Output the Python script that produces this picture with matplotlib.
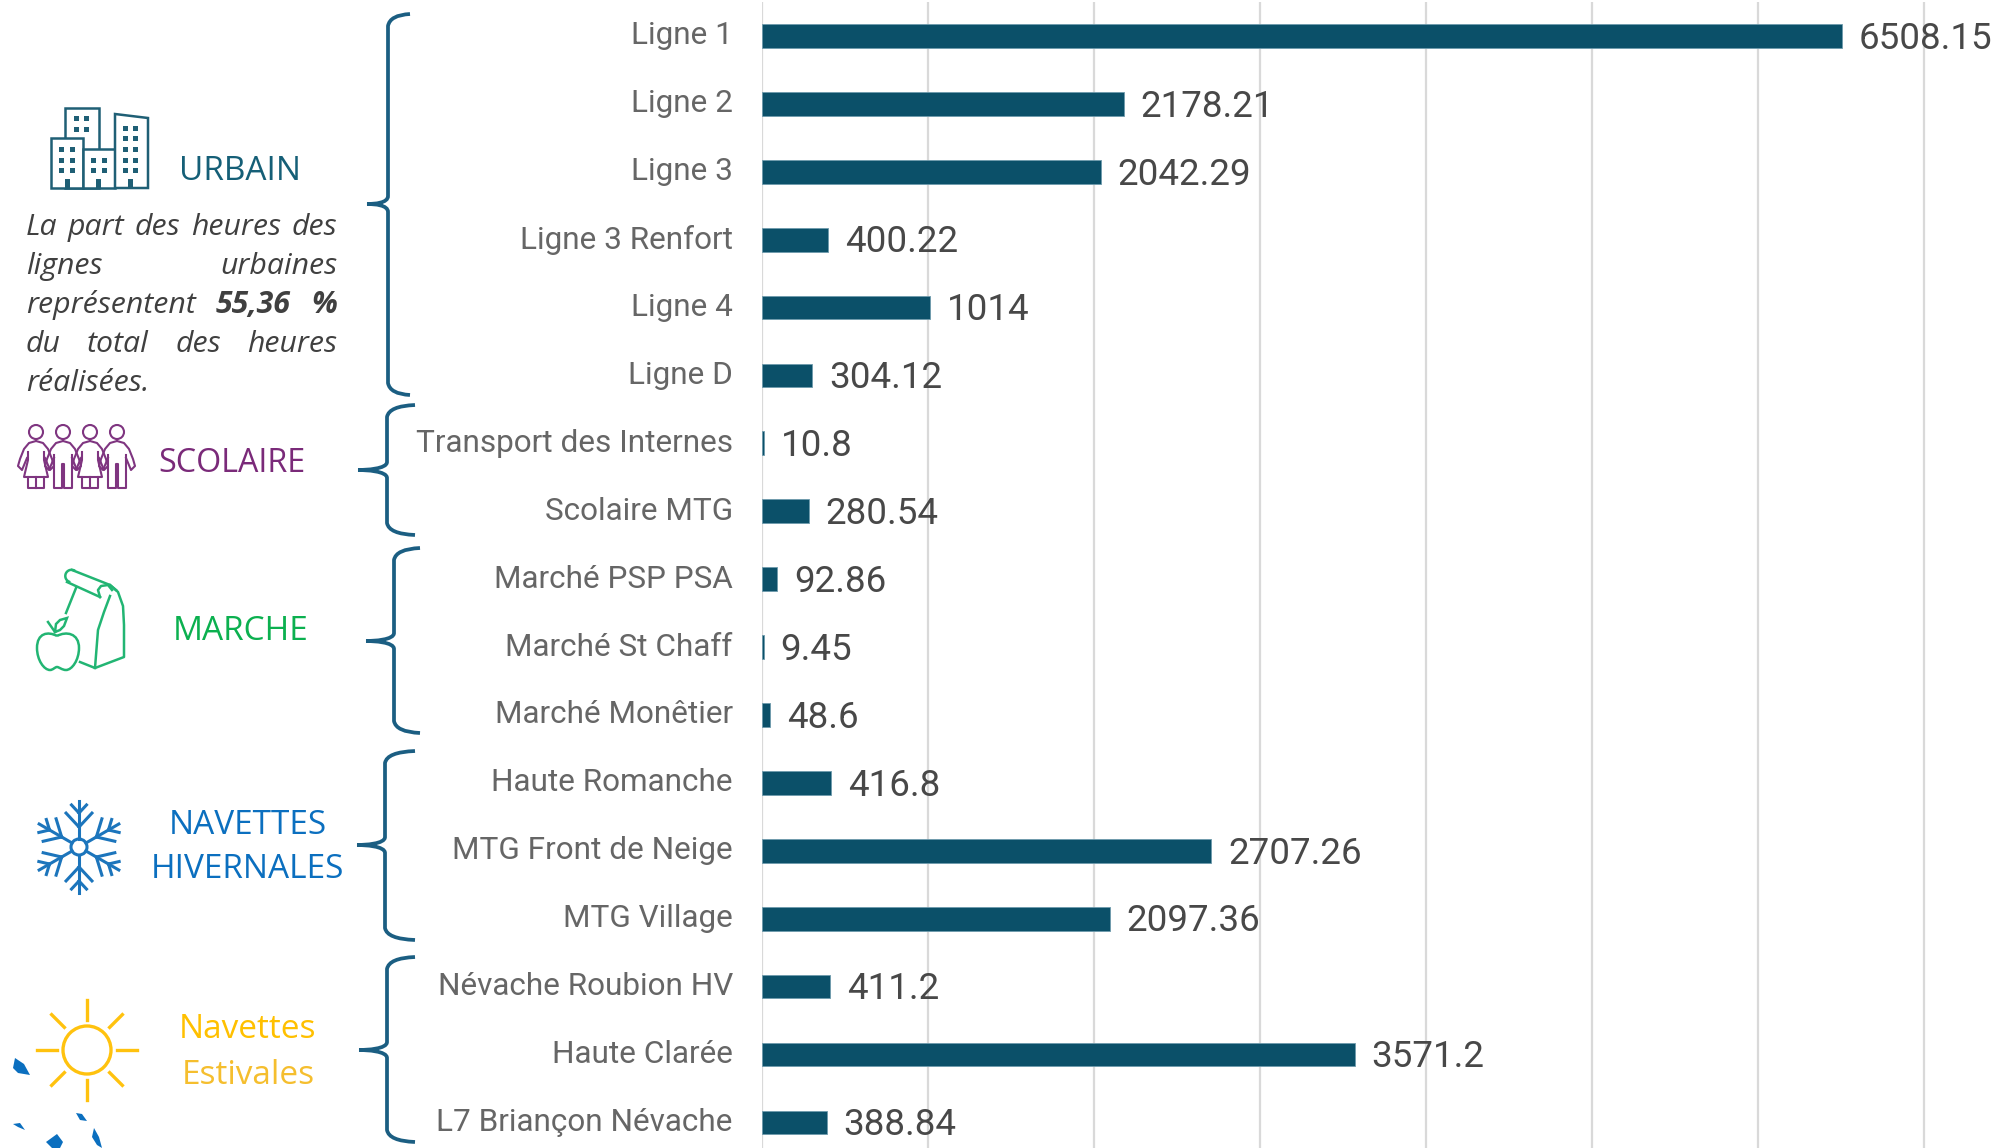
import matplotlib
matplotlib.use('Agg')
import matplotlib.pyplot as plt
from matplotlib.path import Path
from matplotlib.patches import PathPatch, Circle, Rectangle, Polygon
import numpy as np

categories = ['Ligne 1', 'Ligne 2', 'Ligne 3', 'Ligne 3 Renfort', 'Ligne 4', 'Ligne D',
              'Transport des Internes', 'Scolaire MTG',
              'Marché PSP PSA', 'Marché St Chaff', 'Marché Monêtier',
              'Haute Romanche', 'MTG Front de Neige', 'MTG Village',
              'Névache Roubion HV', 'Haute Clarée', 'L7 Briançon Névache']
heures = [6508.15, 2178.21, 2042.29, 400.22, 1014, 304.12,
          10.8, 280.54,
          92.86, 9.45, 48.6,
          416.8, 2707.26, 2097.36,
          411.2, 3571.2, 388.84]
grid_ticks = [0, 1000, 2000, 3000, 4000, 5000, 6000, 7000]

W, H = 2011, 1148
fig = plt.figure(figsize=(W / 100, H / 100), dpi=100)

# chart axes : 166 px for 1000 h, rows every 67.9 px
ax = fig.add_axes([762 / W, 0, (W - 762) / W, (H - 2) / H])
ax.barh(range(len(heures)), heures, height=0.35, color='#0B5069', edgecolor='#6E9BAD', linewidth=0.6, zorder=3)
ax.set_xlim(0, (W - 762) / 0.166)
ax.set_ylim((H - 36) / 67.9, -0.5)
ax.set_xticks(grid_ticks)
ax.set_yticks(range(len(categories)))
ax.set_yticklabels(categories, family='Roboto', fontsize=22.7, color='#666666', va='center')
ax.tick_params(axis='y', length=0, pad=21)
ax.tick_params(axis='x', length=0, labelbottom=False)
ax.grid(axis='x', color='#D9D9D9', linewidth=1.6, zorder=0)
for s in ax.spines.values():
    s.set_visible(False)
for i, v in enumerate(heures):
    ax.annotate(f'{v:g}', (v, i), xytext=(12, -2), textcoords='offset points', va='center', ha='left',
                family='Roboto', fontsize=26.5, color='#484848')

# overlay in pixels for the icons and braces
ov = fig.add_axes([0, 0, 1, 1], zorder=5)
ov.set_xlim(0, W)
ov.set_ylim(H, 0)
ov.axis('off')
ov.patch.set_alpha(0)


def brace(x_spine, x_tip, x_end, y_top, y_mid, y_bot):
    r = 12
    verts = [(x_end, y_top), (x_spine + 2, y_top + 1), (x_spine, y_top + r),
             (x_spine, y_mid - 8),
             (x_spine, y_mid - 1), (x_tip + 8, y_mid), (x_tip, y_mid),
             (x_tip + 8, y_mid), (x_spine, y_mid + 1), (x_spine, y_mid + 8),
             (x_spine, y_bot - r),
             (x_spine + 2, y_bot - 1), (x_end, y_bot)]
    codes = [Path.MOVETO, Path.CURVE3, Path.CURVE3, Path.LINETO,
             Path.CURVE4, Path.CURVE4, Path.CURVE4,
             Path.CURVE4, Path.CURVE4, Path.CURVE4,
             Path.LINETO, Path.CURVE3, Path.CURVE3]
    ov.add_patch(PathPatch(Path(verts, codes), fc='none', ec='#1B5E82', lw=2.7))


brace(388, 367, 410, 14, 204, 395)
brace(387, 358, 415, 405, 470, 535)
brace(394, 366, 420, 548, 641, 733)
brace(385, 357, 415, 751, 845, 940)
brace(387, 359, 415, 957, 1050, 1142)

# buildings
c = '#1F5F75'
for x0, y0, x1 in [(65, 108, 99), (51, 138, 83), (83, 149, 115)]:
    ov.add_patch(Rectangle((x0, y0), x1 - x0, 188 - y0, fc='white', ec=c, lw=1.8))
ov.add_patch(Polygon([(115, 114), (148, 118), (148, 188), (115, 188)], fc='white', ec=c, lw=1.8))
for x, y in [(77, 118), (87, 118), (77, 129), (87, 129),
             (62, 149), (73, 149), (62, 160), (73, 160), (62, 170), (73, 170),
             (94, 160), (105, 160), (94, 170), (105, 170),
             (126, 128), (136, 128), (126, 138), (136, 138), (126, 149), (136, 149),
             (126, 160), (136, 160), (126, 170), (136, 170)]:
    ov.add_patch(Rectangle((x - 2.5, y - 2.5), 5, 5, fc=c, ec='none'))
for x in [68, 99, 131]:
    ov.add_patch(Rectangle((x - 2.5, 179), 5, 9, fc=c, ec='none'))

# children
c = '#7F3580'
for k, x in enumerate([36, 63, 90, 117]):
    ov.add_patch(Circle((x, 432), 7, fc='none', ec=c, lw=1.5))
    for sg in (-1, 1):
        ov.plot([x, x + sg * 7, x + sg * 12, x + sg * 16, x + sg * 18, x + sg * 14, x + sg * 9],
                [441, 443, 449, 459, 466, 470, 458], color=c, lw=1.5)
    if k in (0, 2):
        ov.plot([x - 8, x - 8, x - 12, x + 12, x + 8, x + 8], [452, 460, 477, 477, 460, 452], color=c, lw=1.5)
        ov.plot([x - 8, x - 8, x + 8, x + 8], [477, 488, 488, 477], color=c, lw=1.5)
        ov.plot([x, x], [477, 488], color=c, lw=1.5)
    else:
        ov.plot([x - 9, x - 9, x - 1, x - 1, x + 1, x + 1, x + 9, x + 9],
                [455, 488, 488, 464, 464, 488, 488, 455], color=c, lw=1.5)

# apple and bag
c = '#22B573'
lw = 1.8
ov.plot([72, 110, 116], [570, 585, 590], color=c, lw=lw)
ov.plot([67, 100], [582, 597], color=c, lw=lw)
th = np.linspace(np.pi / 2 + 0.4, 3 * np.pi / 2 + 0.4, 20)
ov.plot(71.5 + 6.2 * np.cos(th), 576 + 6.2 * np.sin(th), color=c, lw=lw)
ov.plot([100, 98, 101, 108, 112], [597, 590, 586, 585, 590], color=c, lw=lw)
ov.plot([76, 66], [588, 613], color=c, lw=lw)
ov.plot([110, 118, 123, 124, 124, 95, 80], [585, 592, 606, 625, 657, 668, 662], color=c, lw=lw)
ov.plot([110, 104, 98, 95], [596, 612, 630, 668], color=c, lw=lw)
apple = Path([(57, 636), (48, 631), (37, 633), (37, 648), (37, 660), (44, 670), (50, 670),
              (53, 670), (55, 667), (57, 667), (59, 667), (62, 670), (66, 670),
              (72, 670), (79, 660), (79, 648), (79, 633), (66, 631), (57, 636)],
             [Path.MOVETO] + [Path.CURVE4] * 18)
ov.add_patch(PathPatch(apple, fc='none', ec=c, lw=lw))
ov.plot([55, 48], [632, 622], color=c, lw=lw)
ov.add_patch(Polygon([(55, 632), (56, 624), (60, 620), (67, 618), (64, 626), (60, 630)], fc='none', ec=c, lw=lw))

# snowflake
c = '#1C75BC'
cx, cy = 79, 847
ov.add_patch(Circle((cx, cy), 8, fc='none', ec=c, lw=2.2))
for k in range(6):
    a = np.pi / 2 + k * np.pi / 3
    d = np.array([np.cos(a), -np.sin(a)])
    ov.plot([cx + 8 * d[0], cx + 46 * d[0]], [cy + 8 * d[1], cy + 46 * d[1]], color=c, lw=2.2)
    for r, s, b in [(20, 19, 0.75), (34, 11, 0.75)]:
        for sg in (-1, 1):
            e = np.array([np.cos(a + sg * b), -np.sin(a + sg * b)])
            p = np.array([cx, cy]) + r * d
            ov.plot([p[0], p[0] + s * e[0]], [p[1], p[1] + s * e[1]], color=c, lw=2.2)

# sun
c = '#FFC20E'
cx, cy = 87, 1050
ov.add_patch(Circle((cx, cy), 24, fc='none', ec=c, lw=2.4))
for k in range(8):
    a = k * np.pi / 4
    r0, r1 = (30, 50) if k % 2 == 0 else (32, 50)
    ov.plot([cx + r0 * np.cos(a), cx + r1 * np.cos(a)], [cy + r0 * np.sin(a), cy + r1 * np.sin(a)], color=c, lw=2.4)

# blue bits, bottom left
for pts in [[(15, 1058), (24, 1064), (30, 1075), (18, 1073), (13, 1068)],
            [(13, 1124), (20, 1123), (25, 1130), (18, 1127)],
            [(46, 1142), (57, 1134), (63, 1142), (60, 1148), (52, 1148)],
            [(76, 1113), (82, 1114), (87, 1121), (80, 1120)],
            [(94, 1128), (99, 1137), (102, 1148), (97, 1145), (92, 1137)]]:
    ov.add_patch(Polygon(pts, fc='#0B6FBF', ec='none'))

# group names
font = 'Open Sans'
ov.text(240, 172, 'URBAIN', family=font, fontsize=24, color='#155F77', ha='center', va='center')
ov.text(232, 464, 'SCOLAIRE', family=font, fontsize=23.2, color='#7A2A79', ha='center', va='center')
ov.text(241, 632, 'MARCHE', family=font, fontsize=24, color='#0BB04F', ha='center', va='center')
ov.text(248, 826, 'NAVETTES', family=font, fontsize=24, color='#0B6FBF', ha='center', va='center')
ov.text(247, 870, 'HIVERNALES', family=font, fontsize=24, color='#0B6FBF', ha='center', va='center')
ov.text(248, 1030, 'Navettes', family=font, fontsize=24, color='#FFC000', ha='center', va='center')
ov.text(248, 1075, 'Estivales', family=font, fontsize=24, color='#F5BE2E', ha='center', va='center')

# justified paragraph
lines = [(235, [('La', 0), ('part', 0), ('des', 0), ('heures', 0), ('des', 0)], True),
         (274, [('lignes', 0), ('urbaines', 0)], True),
         (313, [('représentent', 0), ('55,36', 1), ('%', 1)], True),
         (352, [('du', 0), ('total', 0), ('des', 0), ('heures', 0)], True),
         (391, [('réalisées.', 0)], False)]
rend = fig.canvas.get_renderer()
for y, words, just in lines:
    items = [ov.text(0, y, w, family=font, style='italic', fontsize=21.8,
                     weight='bold' if b else 'normal', color='#404040', ha='left', va='baseline')
             for w, b in words]
    widths = [it.get_window_extent(rend).width for it in items]
    gap = (337 - 26 - sum(widths)) / (len(items) - 1) if just else 0
    x = 26
    for it, w in zip(items, widths):
        it.set_x(x)
        x += w + gap

fig.savefig('out.png', dpi=100, facecolor='white')
